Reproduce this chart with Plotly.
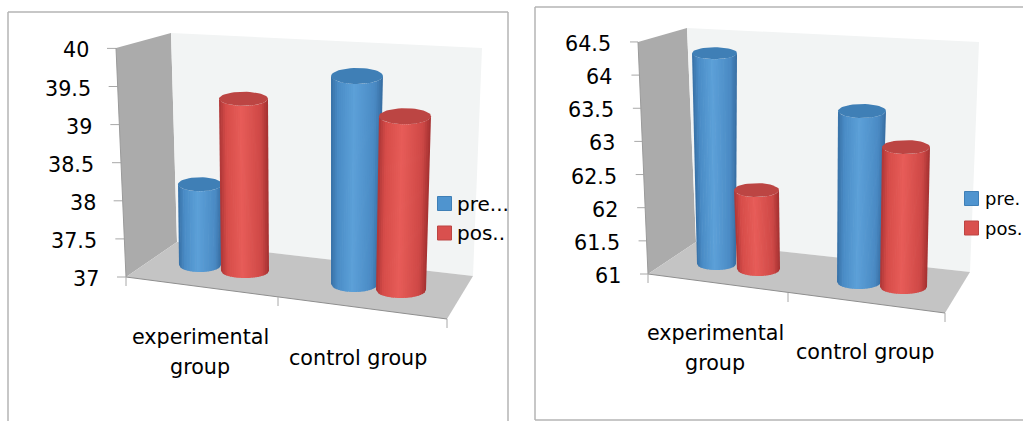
import math
import plotly.graph_objects as go

# ---- data ----
categories = [["experimental", "group"], ["control group"]]
series_names = ["pre...", "pos.."]
series_names_right = ["pre.", "pos."]
left_pre = [38.06, 39.73]
left_post = [39.26, 39.28]
right_pre = [64.18, 63.58]
right_post = [62.19, 63.11]
left_ticks = [37, 37.5, 38, 38.5, 39, 39.5, 40]
left_tick_labels = ["37", "37.5", "38", "38.5", "39", "39.5", "40"]
right_ticks = [61, 61.5, 62, 62.5, 63, 63.5, 64, 64.5]
right_tick_labels = ["61", "61.5", "62", "62.5", "63", "63.5", "64", "64.5"]

# ---- layout / style (pixel geometry of the fake 3-D box) ----
W, H = 1023, 421
FONT = "DejaVu Sans"
FS = 20.7
BLUE_STOPS = [(0, (56, 112, 166)), (.14, (74, 140, 198)), (.45, (92, 160, 216)), (.85, (74, 138, 196)), (1, (54, 108, 160))]
RED_STOPS = [(0, (172, 54, 54)), (.14, (214, 76, 73)), (.45, (231, 92, 88)), (.85, (206, 72, 70)), (1, (162, 48, 48))]
BLUE_TOP, RED_TOP = "#3F7FB6", "#BC4543"

LEFT = dict(
    yaxis="y", ticks=left_ticks, labels=left_tick_labels, floor=37, floor_px=277, scale=76.2,
    pre=left_pre, post=left_post,
    axis_top=(116, 48.5), axis_bot=(126, 277), tick_len=9, label_gap=16,
    wall=[(116, 48), (171, 33), (177, 242), (126, 277)],
    back=[(171, 33), (482, 48), (473, 276), (177, 242)],
    floor_poly=[(126, 277), (177, 242), (473, 276), (447, 319)],
    xticks=[(126, 277), (278, 297), (447, 319)],
    # x left/right at top, x left/right at bottom, bottom-centre pixel, ellipse ry
    cyl=[[(178, 222, 179, 221, 265, 7), (331, 383, 331, 378, 284, 8)],
         [(219, 268, 221, 269, 271, 7), (379, 431, 376, 426, 290, 8)]],
    cat_pos=[(200, [337, 367]), (358, [358])],
    legend=[(444.5, 203.5), (444.5, 233)], names=series_names, legend_fs=20, legend_gap=12,
    border=[(8, 421), (8, 12), (508, 12), (508, 421)],
)
RIGHT = dict(
    yaxis="y2", ticks=right_ticks, labels=right_tick_labels, floor=61, floor_px=274, scale=66.3,
    pre=right_pre, post=right_post,
    axis_top=(638, 42), axis_bot=(648, 274), tick_len=8, label_gap=17,
    wall=[(638, 42), (687, 28), (696, 242), (648, 274)],
    back=[(687, 28), (979, 42), (970, 272), (696, 242)],
    floor_poly=[(648, 274), (696, 242), (970, 272), (945, 313)],
    xticks=[(648, 274), (788, 293), (945, 313)],
    cyl=[[(692, 737, 697, 736, 264, 6), (838, 886, 837, 881, 282, 7)],
         [(734, 779, 737, 780, 269, 7), (882, 930, 880, 927, 287, 7)]],
    cat_pos=[(715, [333, 363]), (865, [352])],
    legend=[(971.5, 198.5), (971.5, 228)], names=series_names_right, legend_fs=18, legend_gap=13,
    border=[(1030, 7), (535, 7), (535, 420), (1030, 420)],
)


def shade(stops, t):
    for (a, ca), (b, cb) in zip(stops, stops[1:]):
        if t <= b:
            f = (t - a) / (b - a)
            return "rgb(%d,%d,%d)" % tuple(round(x + (y - x) * f) for x, y in zip(ca, cb))
    return "rgb(%d,%d,%d)" % stops[-1][1]


fig = go.Figure()
shapes, annotations = [], []


def poly(points, fill):
    path = "M" + "L".join(f"{x},{y}" for x, y in points) + "Z"
    shapes.append(dict(type="path", path=path, xref="x", yref="y3", fillcolor=fill,
                       line=dict(width=0), layer="below"))


def seg(p, q, color="#8C8C8C", width=1):
    shapes.append(dict(type="line", x0=p[0], y0=p[1], x1=q[0], y1=q[1], xref="x", yref="y3",
                       line=dict(color=color, width=width), layer="above"))


def cylinder(chart, value, geom, stops, top_color):
    xl_t, xr_t, xl_b, xr_b, bottom_px, ry = geom
    s, fl, yaxis = chart["scale"], chart["floor"], chart["yaxis"]
    base = fl + (chart["floor_px"] - bottom_px) / s
    top = base + (value - fl)
    ry_v = ry / s
    n = 26
    for i in range(n):
        t0, t1 = i / n, min(1, (i + 1.4) / n)
        def arc(t):
            return math.sqrt(max(0, 1 - (2 * t - 1) ** 2)) * ry_v
        xs = [xl_t + (xr_t - xl_t) * t0, xl_t + (xr_t - xl_t) * t1,
              xl_b + (xr_b - xl_b) * t1, xl_b + (xr_b - xl_b) * t0]
        ys = [top - arc(t0), top - arc(t1), base - arc(t1), base - arc(t0)]
        fig.add_trace(go.Scatter(x=xs + xs[:1], y=ys + ys[:1], yaxis=yaxis, mode="lines", fill="toself",
                                 fillcolor=shade(stops, (i + .5) / n), line=dict(width=0),
                                 hoverinfo="skip", showlegend=False))
    cx, rx = (xl_t + xr_t) / 2, (xr_t - xl_t) / 2
    ex = [cx + rx * math.cos(2 * math.pi * k / 48) for k in range(49)]
    ey = [top + ry_v * math.sin(2 * math.pi * k / 48) for k in range(49)]
    fig.add_trace(go.Scatter(x=ex, y=ey, yaxis=yaxis, mode="lines", fill="toself", fillcolor=top_color,
                             line=dict(width=0), hoverinfo="skip", showlegend=False))


for ch in (LEFT, RIGHT):
    b = ch["border"]
    for p, q in zip(b, b[1:]):
        seg(p, q, "#B4B4B4", 1.5)
    poly(ch["wall"], "#ABABAB")
    poly(ch["back"], "#F2F4F4")
    poly(ch["floor_poly"], "#C4C4C4")
    seg(ch["xticks"][0], ch["xticks"][-1], "#8E8E8E", 1)
    seg(ch["wall"][0], ch["wall"][3], "#9A9A9A", 1)
    for x, y in ch["xticks"]:
        seg((x, y), (x, y + 9), "#A8A8A8", 1)

    # value axis: ticks and labels follow the slanted edge
    (xt, yt), (xb, yb) = ch["axis_top"], ch["axis_bot"]
    tx, ty = [], []
    for v, lab in zip(ch["ticks"], ch["labels"]):
        px = ch["floor_px"] - (v - ch["floor"]) * ch["scale"]
        x_edge = xb + (xt - xb) * (yb - px) / (yb - yt)
        tx += [x_edge - ch["tick_len"], x_edge, None]
        ty += [v, v, None]
        annotations.append(dict(x=x_edge - ch["tick_len"] - ch["label_gap"], y=v, xref="x",
                                yref=ch["yaxis"], text=lab, showarrow=False, xanchor="right",
                                yanchor="middle", yshift=-2, font=dict(family=FONT, size=FS, color="#000000")))
    fig.add_trace(go.Scatter(x=tx, y=ty, yaxis=ch["yaxis"], mode="lines",
                             line=dict(color="#A8A8A8", width=1), hoverinfo="skip", showlegend=False))

    for j in range(2):
        cylinder(ch, ch["pre"][j], ch["cyl"][0][j], BLUE_STOPS, BLUE_TOP)
        cylinder(ch, ch["post"][j], ch["cyl"][1][j], RED_STOPS, RED_TOP)

    for lines, (cx, ys) in zip(categories, ch["cat_pos"]):
        for line, y in zip(lines, ys):
            annotations.append(dict(x=cx, y=y, xref="x", yref="y3", text=line, showarrow=False,
                                    xanchor="center", yanchor="middle",
                                    font=dict(family=FONT, size=FS, color="#000000")))

    for name, col, edge, (lx, ly) in zip(ch["names"], ["#4F94CF", "#D9504E"], ["#3F7FB6", "#BC4543"], ch["legend"]):
        fig.add_trace(go.Scatter(x=[lx], y=[ly], yaxis="y3", mode="markers", hoverinfo="skip", showlegend=False,
                                 marker=dict(symbol="square", size=14, color=col, line=dict(color=edge, width=1))))
        annotations.append(dict(x=lx + ch["legend_gap"], y=ly, xref="x", yref="y3", text=name, showarrow=False,
                                xanchor="left", yanchor="middle", xshift=-2,
                                font=dict(family=FONT, size=ch["legend_fs"], color="#000000")))


def value_range(ch):
    return [ch["floor"] - (H - ch["floor_px"]) / ch["scale"], ch["floor"] + ch["floor_px"] / ch["scale"]]


hidden = dict(visible=False, fixedrange=True, domain=[0, 1])
fig.update_layout(
    width=W, height=H, margin=dict(l=0, r=0, t=0, b=0), paper_bgcolor="white", plot_bgcolor="white",
    showlegend=False, shapes=shapes, annotations=annotations,
    xaxis=dict(range=[0, W], **hidden),
    yaxis=dict(range=value_range(LEFT), **hidden),
    yaxis2=dict(range=value_range(RIGHT), overlaying="y", **hidden),
    yaxis3=dict(range=[H, 0], overlaying="y", **hidden),
)
fig.write_html("out.html", config=dict(displayModeBar=False),
               post_script="document.body.style.margin='0';document.body.style.overflow='hidden';")
